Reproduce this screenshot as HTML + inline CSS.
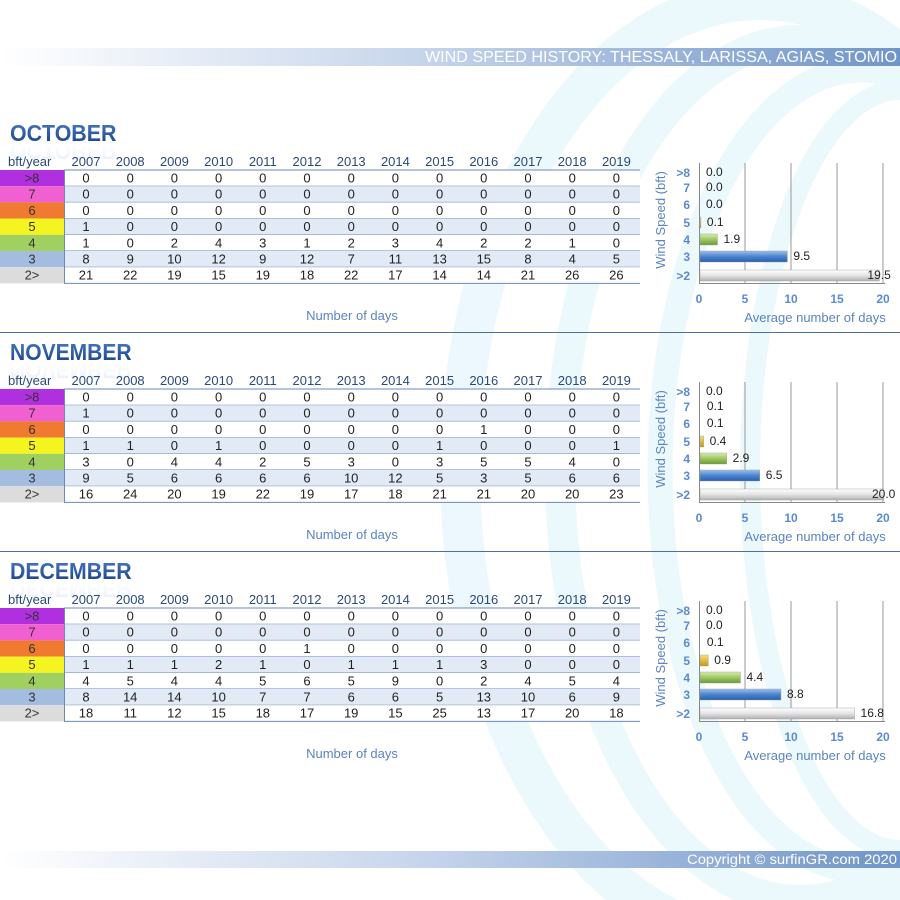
<!DOCTYPE html>
<html><head><meta charset="utf-8">
<style>
body{margin:0;background:#fff;}
svg{display:block;font-family:"Liberation Sans",sans-serif;}
</style></head>
<body>
<svg id="s" width="900" height="900" viewBox="0 0 900 900" xmlns="http://www.w3.org/2000/svg">
<defs>
<linearGradient id="hdr" x1="0" x2="1" y1="0" y2="0">
<stop offset="0" stop-color="#ffffff"/><stop offset="0.45" stop-color="#c9d7ec"/><stop offset="1" stop-color="#7095c8"/>
</linearGradient>
<linearGradient id="ttl" x1="0" x2="0" y1="0" y2="1">
<stop offset="0" stop-color="#4a7cc4"/><stop offset="1" stop-color="#163f86"/>
</linearGradient>
<linearGradient id="refl" x1="0" x2="0" y1="0" y2="1">
<stop offset="0" stop-color="#9bb8e0" stop-opacity="0.5"/><stop offset="1" stop-color="#ffffff" stop-opacity="0"/>
</linearGradient>
<linearGradient id="gGrey" x1="0" x2="0" y1="0" y2="1"><stop offset="0" stop-color="#ffffff"/><stop offset="0.5" stop-color="#e4e4e4"/><stop offset="1" stop-color="#b0b0b0"/></linearGradient>
<linearGradient id="gBlue" x1="0" x2="0" y1="0" y2="1"><stop offset="0" stop-color="#9cc0ec"/><stop offset="0.5" stop-color="#4a84d0"/><stop offset="1" stop-color="#2c5fa8"/></linearGradient>
<linearGradient id="gGreen" x1="0" x2="0" y1="0" y2="1"><stop offset="0" stop-color="#d8ecb0"/><stop offset="0.5" stop-color="#9cc860"/><stop offset="1" stop-color="#6e9a38"/></linearGradient>
<linearGradient id="gGold" x1="0" x2="0" y1="0" y2="1"><stop offset="0" stop-color="#f8e080"/><stop offset="1" stop-color="#c89810"/></linearGradient>
</defs>
<g fill="none" stroke="#d4f0fa" opacity="0.45">
<ellipse cx="760" cy="470" rx="300" ry="470" stroke-width="40"/>
<ellipse cx="800" cy="470" rx="240" ry="430" stroke-width="30"/>
<ellipse cx="860" cy="470" rx="200" ry="400" stroke-width="25"/>
<ellipse cx="900" cy="470" rx="150" ry="380" stroke-width="20"/>
</g>
<rect x="0" y="48" width="900" height="18" fill="url(#hdr)"/>
<text x="425" y="62" font-size="16" fill="#fff" textLength="472" lengthAdjust="spacingAndGlyphs">WIND SPEED HISTORY: THESSALY, LARISSA, AGIAS, STOMIO</text>
<rect x="0" y="851" width="900" height="17" fill="url(#hdr)"/>
<text x="687" y="864" font-size="13.5" fill="#fff" textLength="210" lengthAdjust="spacingAndGlyphs">Copyright © surfinGR.com 2020</text>
<g id="main"></g>
</svg>
<script>
var sections=[
{t:"OCTOBER",d:[[0,0,0,0,0,0,0,0,0,0,0,0,0],[0,0,0,0,0,0,0,0,0,0,0,0,0],[0,0,0,0,0,0,0,0,0,0,0,0,0],[1,0,0,0,0,0,0,0,0,0,0,0,0],[1,0,2,4,3,1,2,3,4,2,2,1,0],[8,9,10,12,9,12,7,11,13,15,8,4,5],[21,22,19,15,19,18,22,17,14,14,21,26,26]],a:[0.0,0.0,0.0,0.1,1.9,9.5,19.5]},
{t:"NOVEMBER",d:[[0,0,0,0,0,0,0,0,0,0,0,0,0],[1,0,0,0,0,0,0,0,0,0,0,0,0],[0,0,0,0,0,0,0,0,0,1,0,0,0],[1,1,0,1,0,0,0,0,1,0,0,0,1],[3,0,4,4,2,5,3,0,3,5,5,4,0],[9,5,6,6,6,6,10,12,5,3,5,6,6],[16,24,20,19,22,19,17,18,21,21,20,20,23]],a:[0.0,0.1,0.1,0.4,2.9,6.5,20.0]},
{t:"DECEMBER",d:[[0,0,0,0,0,0,0,0,0,0,0,0,0],[0,0,0,0,0,0,0,0,0,0,0,0,0],[0,0,0,0,0,1,0,0,0,0,0,0,0],[1,1,1,2,1,0,1,1,1,3,0,0,0],[4,5,4,4,5,6,5,9,0,2,4,5,4],[8,14,14,10,7,7,6,6,5,13,10,6,9],[18,11,12,15,18,17,19,15,25,13,17,20,18]],a:[0.0,0.0,0.1,0.9,4.4,8.8,16.8]}];
var labs=[">8","7","6","5","4","3","2>"];
var cols=["#b030e0","#f060d0","#f07a30","#f4f420","#a0d060","#a4bce0","#dcdcdc"];
var clabs=[">8","7","6","5","4","3",">2"];
var cy=[172,187,204,222,239,256,275];
var barf=[null,null,null,"url(#gGold)","url(#gGreen)","url(#gBlue)","url(#gGrey)"];
var h="";
sections.forEach(function(s,k){
 var o=k*219;
 var tl=s.t.length*15.2;
 h+='<text transform="translate(0,'+(290+2*o)+') scale(1,-1)" x="10" y="'+(147+o)+'" font-size="23" font-weight="bold" fill="url(#refl)" opacity="0.6" textLength="'+tl+'" lengthAdjust="spacingAndGlyphs">'+s.t+'</text>';
 h+='<text x="10" y="'+(141+o)+'" font-size="23" font-weight="bold" fill="url(#ttl)" textLength="'+tl+'" lengthAdjust="spacingAndGlyphs">'+s.t+'</text>';
 h+='<text x="8" y="'+(166+o)+'" font-size="13" fill="#2a4a7a">bft/year</text>';
 for(var c=0;c<13;c++){h+='<text x="'+(86+c*44.2)+'" y="'+(166+o)+'" font-size="13" fill="#2a4a7a" text-anchor="middle">'+(2007+c)+'</text>';}
 for(var r=0;r<7;r++){
  var y=170+o+r*16.2;
  h+='<rect x="0" y="'+y+'" width="64" height="16.2" fill="'+cols[r]+'"/>';
  h+='<rect x="64" y="'+y+'" width="576" height="16.2" fill="'+(r%2?'#e2eaf5':'#fff')+'"/>';
  h+='<text x="32" y="'+(y+12.5)+'" font-size="13" fill="#333" text-anchor="middle">'+labs[r].replace('>','&gt;')+'</text>';
  for(var c=0;c<13;c++)h+='<text x="'+(86+c*44.2)+'" y="'+(y+12.5)+'" font-size="13" fill="#222" text-anchor="middle">'+s.d[r][c]+'</text>';
  h+='<line x1="64" x2="640" y1="'+(y+16.2)+'" y2="'+(y+16.2)+'" stroke="#6a88b8" stroke-width="1"/>';
 }
 h+='<line x1="64" x2="640" y1="'+(170+o)+'" y2="'+(170+o)+'" stroke="#6a88b8"/>';
 h+='<line x1="64.5" x2="64.5" y1="'+(170+o)+'" y2="'+(283+o)+'" stroke="#6a88b8"/>';
 h+='<text x="352" y="'+(320+o)+'" font-size="13" fill="#5a84c0" text-anchor="middle">Number of days</text>';
 if(k<2)h+='<line x1="0" x2="900" y1="'+(332.5+o)+'" y2="'+(332.5+o)+'" stroke="#4a6fa8" stroke-width="1"/>';
 for(var g=1;g<=4;g++){var gx=699+g*46;h+='<line x1="'+gx+'" x2="'+gx+'" y1="'+(163+o)+'" y2="'+(283+o)+'" stroke="#999" stroke-width="1"/>';}
 h+='<line x1="699.5" x2="699.5" y1="'+(163+o)+'" y2="'+(283+o)+'" stroke="#888"/>';
 h+='<line x1="699" x2="885" y1="'+(283.5+o)+'" y2="'+(283.5+o)+'" stroke="#888"/>';
 for(var g=0;g<=4;g++){h+='<text x="'+(699+g*46)+'" y="'+(303+o)+'" font-size="12" font-weight="bold" fill="#5a8ad0" text-anchor="middle">'+(g*5)+'</text>';}
 h+='<text x="815" y="'+(322+o)+'" font-size="13" fill="#5a84c0" text-anchor="middle">Average number of days</text>';
 h+='<text transform="translate('+(665)+','+(220+o)+') rotate(-90)" font-size="13" fill="#5a84c0" text-anchor="middle">Wind Speed (bft)</text>';
 for(var r=0;r<7;r++){
  var yy=cy[r]+o;
  h+='<text x="690" y="'+(yy+5)+'" font-size="12" font-weight="bold" fill="#5a8ad0" text-anchor="end">'+clabs[r].replace('>','&gt;')+'</text>';
  var w=s.a[r]*9.2;
  if(barf[r]&&w>0)h+='<rect x="700" y="'+(yy-5)+'" width="'+w+'" height="11" fill="'+barf[r]+'" stroke="#999" stroke-width="0.4"/>';
  var tx=700+Math.max(w,0)+6; if(r==6&&s.a[r]>18)tx=700+w-12;
  h+='<text x="'+tx+'" y="'+(yy+4)+'" font-size="12" fill="#222">'+s.a[r].toFixed(1)+'</text>';
 }
});
document.getElementById("main").innerHTML=h;
</script>
</body></html>
